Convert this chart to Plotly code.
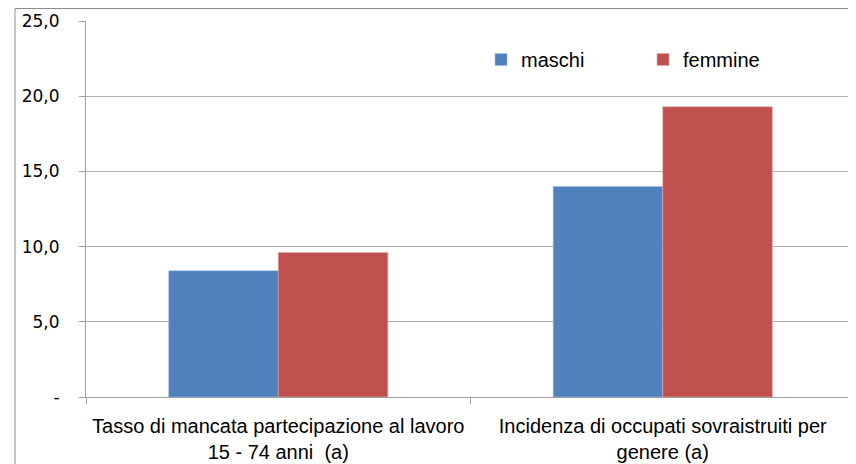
import plotly.graph_objects as go

categories = ["Tasso di mancata partecipazione al lavoro<br>15 - 74 anni  (a)",
              "Incidenza di occupati sovraistruiti per<br>genere (a)"]
series_names = ["maschi", "femmine"]
maschi = [8.4, 14.0]
femmine = [9.6, 19.3]
ytick_vals = [0, 5, 10, 15, 20, 25]
ytick_text = ["-", "5,0", "10,0", "15,0", "20,0", "25,0"]

colors = ["#4F81BD", "#C0504D"]
line_colors = ["#A7C0DE", "#E0A7A6"]

fig = go.Figure()
for name, vals, c, lc in zip(series_names, [maschi, femmine], colors, line_colors):
    fig.add_trace(go.Bar(x=categories, y=vals, name=name,
                         marker=dict(color=c, line=dict(color=lc, width=0.6))))

# page has an 8px body margin; figure sized to fill the remaining window
OFF = 8
W, H = 856 - OFF, 464 - OFF
L, T = 86 - OFF, 21 - OFF
R = W - (855 - OFF)
B = H - (397 - OFF)
pw, ph = W - L - R, H - T - B

def px_x(px):
    return (px - OFF - L) / pw

def px_y(py):
    return (H - B - (py - OFF)) / ph

fig.update_layout(
    width=W, height=H,
    margin=dict(l=L, r=R, t=T, b=B, autoexpand=False),
    paper_bgcolor="white", plot_bgcolor="white",
    barmode="group", bargap=0.43, bargroupgap=0,
    font=dict(family="Liberation Sans Narrow, Arial Narrow, sans-serif", size=19, color="#000000"),
    showlegend=True,
    legend=dict(orientation="h", x=px_x(481), y=px_y(40),
                xanchor="left", yanchor="top", bgcolor="rgba(0,0,0,0)",
                font=dict(size=20),
                entrywidth=117, entrywidthmode="pixels", traceorder="normal"),
    xaxis=dict(type="category", showline=True, linecolor="#A0A0A0", linewidth=1,
               ticks="outside", tickson="boundaries", ticklen=6, tickcolor="#A0A0A0",
               showgrid=False, tickfont=dict(size=20), ticklabelstandoff=11,
               automargin=False),
    yaxis=dict(range=[0, 25], tickvals=ytick_vals, ticktext=ytick_text,
               showline=True, linecolor="#A0A0A0", linewidth=1,
               ticks="outside", ticklen=6, tickcolor="#A0A0A0",
               showgrid=True, gridcolor="#B0B0B0", gridwidth=1, zeroline=False,
               tickfont=dict(family="DejaVu Sans, sans-serif", size=17), ticklabelstandoff=16,
               automargin=False),
)

# outer chart frame
fig.add_shape(type="rect", xref="paper", yref="paper",
              x0=px_x(15), x1=1.2, y0=-0.5, y1=px_y(8.5),
              line=dict(color="#8C8C8C", width=1), fillcolor="rgba(0,0,0,0)", layer="below")

fig.write_html("out.html")
